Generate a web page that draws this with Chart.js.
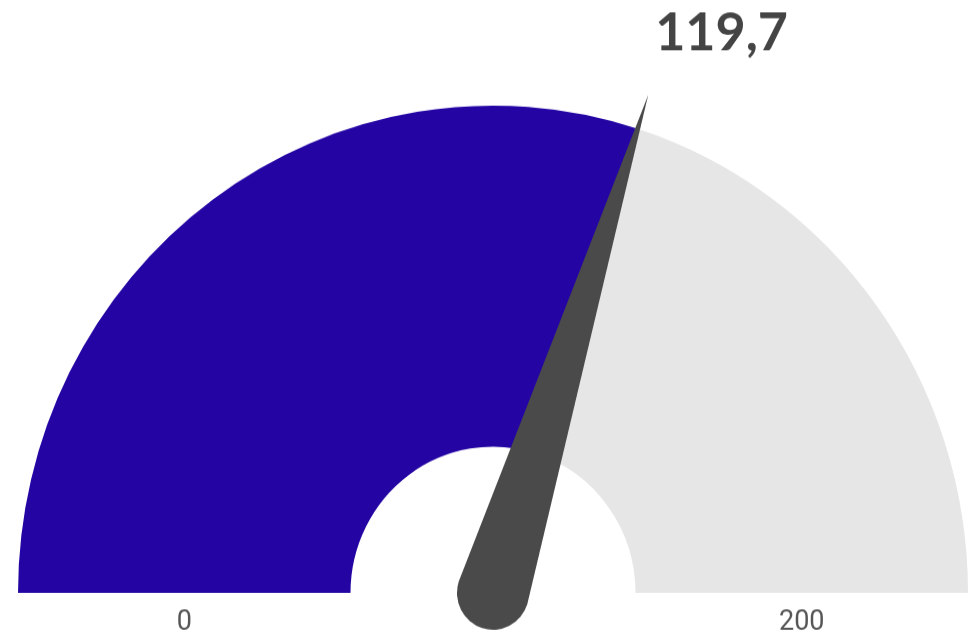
<!DOCTYPE html>
<html>
<head>
<meta charset="utf-8">
<script src="https://cdn.jsdelivr.net/npm/chart.js@4"></script>
<style>
    html, body { margin: 0; padding: 0; background: #fff; overflow: hidden; width: 968px; height: 639px; }
    #frame { width: 968px; height: 639px; overflow: hidden; position: relative; }
    #wrap { position: absolute; left: 0; top: 0; width: 968px; height: 623px; transform: scaleY(1.0257); transform-origin: 0 0; }
</style>
</head>
<body>
<div id="frame"><div id="wrap"><canvas id="gauge-chart" width="968" height="623"></canvas></div></div>
<script>
// dados do medidor
const gaugeLabels = ['Valor', 'Restante'];
const gaugeMin = 0;
const gaugeMax = 200;
const gaugeValue = 119.7;
const tickLabels = ['0', '200'];
const gaugeColors = ['#2405a3', '#e6e6e6'];

const gaugeData = [gaugeValue - gaugeMin, gaugeMax - gaugeValue];

// ponteiro + textos
const needlePlugin = {
    id: 'needle',
    afterDatasetsDraw(chart) {
        const ctx = chart.ctx;
        const arc = chart.getDatasetMeta(0).data[0];
        const cx = arc.x, cy = arc.y;
        const outer = arc.outerRadius, inner = arc.innerRadius;
        const angle = arc.endAngle;
        const len = outer * 1.073;
        const baseR = 36;

        const tipX = cx + Math.cos(angle) * len;
        const tipY = cy + Math.sin(angle) * len;
        const px = Math.cos(angle + Math.PI / 2) * baseR;
        const py = Math.sin(angle + Math.PI / 2) * baseR;

        ctx.save();
        ctx.fillStyle = '#4a4a4a';
        ctx.beginPath();
        ctx.moveTo(cx + px, cy + py);
        ctx.lineTo(tipX, tipY);
        ctx.lineTo(cx - px, cy - py);
        ctx.arc(cx, cy, baseR, angle - Math.PI / 2, angle + Math.PI / 2, true);
        ctx.closePath();
        ctx.fill();

        // rotulos min / max
        const mid = (outer + inner) / 2;
        ctx.fillStyle = '#555';
        ctx.font = '27px Roboto';
        ctx.textAlign = 'center';
        ctx.textBaseline = 'alphabetic';
        ctx.fillText(tickLabels[0], cx - mid, cy + 36);
        ctx.fillText(tickLabels[1], cx + mid, cy + 36);

        // valor atual
        ctx.fillStyle = '#444';
        ctx.font = 'bold 52px Lato';
        ctx.textAlign = 'left';
        ctx.fillText(gaugeValue.toFixed(1).replace('.', ','), tipX + 7, tipY - 44);
        ctx.restore();
    }
};

const ctx = document.getElementById('gauge-chart').getContext('2d');
const gaugeChart = new Chart(ctx, {
    type: 'doughnut',
    data: {
        labels: gaugeLabels,
        datasets: [{
            data: gaugeData,
            backgroundColor: gaugeColors,
            borderWidth: 0
        }]
    },
    options: {
        responsive: false,
        animation: false,
        devicePixelRatio: 1,
        rotation: -90,
        circumference: 180,
        cutout: '30%',
        layout: { padding: { left: 18, right: 0, top: 103, bottom: 45 } },
        plugins: {
            legend: { display: false },
            tooltip: { enabled: false }
        }
    },
    plugins: [needlePlugin]
});
</script>
</body>
</html>
